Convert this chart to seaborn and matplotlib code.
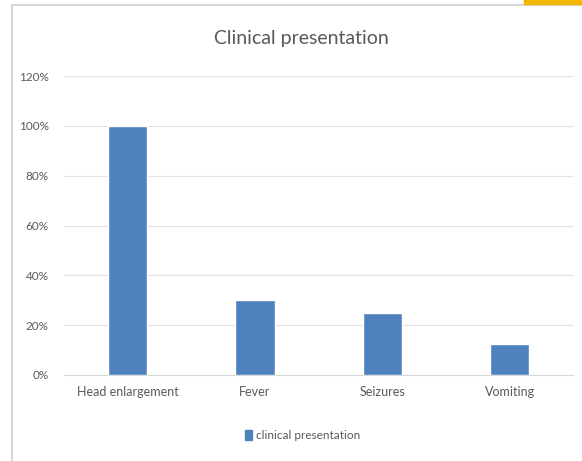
import matplotlib
matplotlib.use("Agg")
import matplotlib.pyplot as plt
import matplotlib.patches as mpatches
import seaborn as sns
import pandas as pd

symptoms = ["Head enlargement", "Fever", "Seizures", "Vomiting"]
share = [1.00, 0.30, 0.25, 0.125]
y_ticks = [0, 0.2, 0.4, 0.6, 0.8, 1.0, 1.2]
y_labels = ["0%", "20%", "40%", "60%", "80%", "100%", "120%"]
series_name = "clinical presentation"

df = pd.DataFrame({"symptom": symptoms, "share": share, "series": series_name})

sns.set_style("white")
plt.rcParams["font.family"] = ["Lato", "DejaVu Sans"]
txt = "#595959"
bar_col = "#4f81bd"

fig = plt.figure(figsize=(5.82, 4.61), dpi=100)
ax = fig.add_axes([0.110, 0.1866, 0.875, 0.6484])

sns.barplot(data=df, x="symptom", y="share", hue="series", palette=[bar_col],
            width=0.31, saturation=1, ax=ax, legend=False)

ax.set_ylim(0, 1.2)
ax.set_yticks(y_ticks)
ax.set_yticklabels(y_labels, color=txt, fontsize=8.5)
ax.set_xlim(-0.5, 3.5)
ax.tick_params(axis="x", colors=txt, labelsize=9, length=0, pad=8)
ax.tick_params(axis="y", length=0, pad=11)
for t in ax.get_xticklabels():
    t.set_color(txt)
ax.yaxis.grid(True, color="#e3e3e3", linewidth=0.9)
ax.set_axisbelow(True)
for s in ["top", "right", "left"]:
    ax.spines[s].set_visible(False)
ax.spines["bottom"].set_color("#d9d9d9")
ax.set_xlabel("")
ax.set_ylabel("")

fig.text(0.517, 0.917, "Clinical presentation", ha="center", va="center",
         fontsize=14, color=txt)

handle = mpatches.Patch(color=bar_col, label=series_name)
fig.legend(handles=[handle], loc="center", bbox_to_anchor=(0.52, 0.055),
           frameon=False, fontsize=8.5, labelcolor=txt, handlelength=0.6,
           handleheight=0.9, handletextpad=0.3)

# chart frame and corner tab
fig.patches.append(mpatches.Rectangle((12 / 582, -0.1), 1.0, 1 - 5 / 461 + 0.1,
                                      transform=fig.transFigure, fill=False,
                                      edgecolor="#d0d0d0", linewidth=1.2))
fig.patches.append(mpatches.Rectangle((524 / 582, 1 - 4 / 461), 1.0, 0.02,
                                      transform=fig.transFigure, color="#f5b800"))

fig.savefig("out.png", dpi=100)
